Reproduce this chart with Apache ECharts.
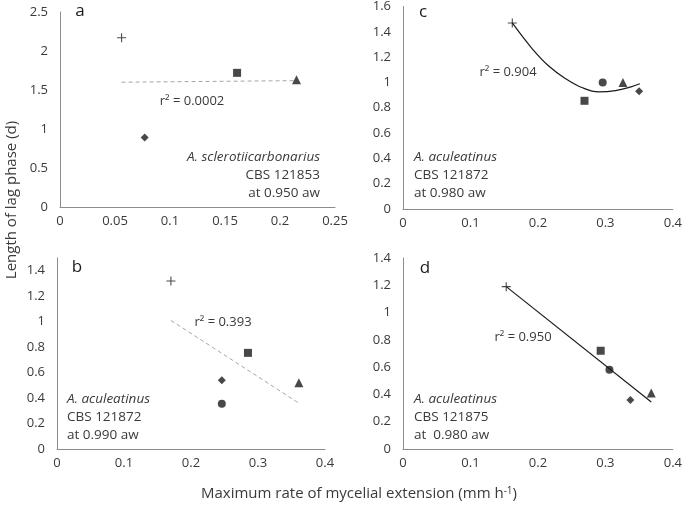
<!DOCTYPE html>
<html>
<head>
<meta charset="utf-8">
<script src="https://cdn.jsdelivr.net/npm/echarts@6/dist/echarts.min.js"></script>
<style>
  html, body { margin: 0; padding: 0; background: #fff; }
  #chart { width: 685px; height: 508px; }
</style>
</head>
<body>
<div id="chart"></div>
<script>
// marker kinds, same order in every panel (null = not measured)
const kinds = ['plus', 'square', 'circle', 'diamond', 'triangle'];

// panel a: A. sclerotiicarbonarius CBS 121853, 0.950 aw
const aX = [0.056, 0.161, null, 0.077, 0.215];
const aY = [2.17, 1.72, null, 0.89, 1.63];
const aTrend = [[0.056, 1.60], [0.215, 1.62]];

// panel b: A. aculeatinus CBS 121872, 0.990 aw
const bX = [0.170, 0.285, 0.246, 0.246, 0.361];
const bY = [1.32, 0.755, 0.355, 0.54, 0.52];
const bTrend = [[0.170, 1.01], [0.361, 0.36]];

// panel c: A. aculeatinus CBS 121872, 0.980 aw
const cX = [0.162, 0.269, 0.296, 0.350, 0.326];
const cY = [1.47, 0.855, 1.0, 0.93, 1.0];
// polynomial trend
const cTrend = [[0.162, 1.47], [0.191, 1.27], [0.216, 1.13], [0.241, 1.03], [0.265, 0.96],
  [0.290, 0.925], [0.315, 0.935], [0.338, 0.965], [0.351, 0.99]];

// panel d: A. aculeatinus CBS 121875, 0.980 aw
const dX = [0.153, 0.293, 0.306, 0.337, 0.368];
const dY = [1.19, 0.72, 0.58, 0.36, 0.41];
const dTrend = [[0.153, 1.19], [0.368, 0.345]];

const r2Labels = ['r\u00b2 = 0.0002', 'r\u00b2 = 0.393', 'r\u00b2 = 0.904', 'r\u00b2 = 0.950'];

const FONT = '"Open Sans", "DejaVu Sans", sans-serif';
const INK = '#1a1a1a';
const TXT = '#3a3a3a';

const symbolOf = {
  plus: 'path://M4.4,0H5.6V10H4.4ZM0,4.4H10V5.6H0Z',
  square: 'rect',
  circle: 'circle',
  diamond: 'diamond',
  triangle: 'triangle'
};
const sizeOf = { plus: 9, square: 8, circle: 8, diamond: 8, triangle: 9 };

function points(xs, ys) {
  const out = [];
  kinds.forEach((k, i) => {
    if (xs[i] == null) return;
    out.push({ value: [xs[i], ys[i]], symbol: symbolOf[k], symbolSize: sizeOf[k] });
  });
  return out;
}

// pixel boxes of the four plot areas
const grids = [
  { left: 60, top: 12, width: 275, height: 195 },   // a
  { left: 57, top: 258, width: 268, height: 191 },  // b
  { left: 403, top: 5, width: 272, height: 204 },   // c
  { left: 403, top: 258, width: 274, height: 191 }  // d
];

function xAxisFor(i, max, interval) {
  return {
    gridIndex: i, type: 'value', min: 0, max: max, interval: interval,
    axisLine: { show: true, lineStyle: { color: '#8c8c8c', width: 1 } },
    axisTick: { show: false },
    splitLine: { show: false },
    axisLabel: { color: TXT, fontFamily: FONT, fontSize: 13, margin: 8 }
  };
}
function yAxisFor(i, max, interval, showMax) {
  return {
    gridIndex: i, type: 'value', min: 0, max: max, interval: interval,
    axisLine: { show: true, lineStyle: { color: '#8c8c8c', width: 1 } },
    axisTick: { show: false },
    splitLine: { show: false },
    axisLabel: { color: TXT, fontFamily: FONT, fontSize: 13, margin: 12, showMaxLabel: showMax }
  };
}

function scatter(i, data) {
  return {
    type: 'scatter', xAxisIndex: i, yAxisIndex: i,
    itemStyle: { color: INK }, data: data, z: 3
  };
}
function trend(i, data, dashed, smooth) {
  return {
    type: 'line', xAxisIndex: i, yAxisIndex: i, data: data,
    showSymbol: false, smooth: smooth ? 0.4 : false, silent: true,
    lineStyle: dashed ? { color: '#a6a6a6', width: 1, type: [4, 3] } : { color: INK, width: 1.2 },
    z: 2
  };
}

function txt(x, y, text, opts) {
  return {
    type: 'text', x: x, y: y,
    style: Object.assign({
      text: text, fill: TXT, font: '13px ' + FONT,
      textAlign: 'center', textVerticalAlign: 'middle'
    }, opts || {})
  };
}
function block(x, y, lines, align) {
  return lines.map((t, j) => txt(x, y + j * 18, t, {
    textAlign: align,
    font: (j === 0 ? 'italic ' : '') + '13.5px ' + FONT
  }));
}

const chart = echarts.init(document.getElementById('chart'), null, { renderer: 'canvas' });
chart.setOption({
  animation: false,
  backgroundColor: '#fff',
  grid: grids,
  xAxis: [
    xAxisFor(0, 0.25, 0.05),
    xAxisFor(1, 0.4, 0.1),
    xAxisFor(2, 0.4, 0.1),
    xAxisFor(3, 0.4, 0.1)
  ],
  yAxis: [
    yAxisFor(0, 2.5, 0.5, true),
    yAxisFor(1, 1.5, 0.2, false),
    yAxisFor(2, 1.6, 0.2, true),
    yAxisFor(3, 1.4, 0.2, true)
  ],
  series: [
    trend(0, aTrend, true, false), scatter(0, points(aX, aY)),
    trend(1, bTrend, true, false), scatter(1, points(bX, bY)),
    trend(2, cTrend, false, true), scatter(2, points(cX, cY)),
    trend(3, dTrend, false, false), scatter(3, points(dX, dY))
  ],
  graphic: [].concat(
    [
      txt(80, 11, 'a', { font: '17px ' + FONT, fill: INK }),
      txt(77, 267, 'b', { font: '17px ' + FONT, fill: INK }),
      txt(423, 12, 'c', { font: '17px ' + FONT, fill: INK }),
      txt(425, 268, 'd', { font: '17px ' + FONT, fill: INK }),
      txt(192, 101, r2Labels[0]),
      txt(223, 322, r2Labels[1]),
      txt(508, 72, r2Labels[2]),
      txt(523, 337, r2Labels[3]),
      {
        type: 'text', x: 12, y: 200, rotation: Math.PI / 2,
        style: { text: 'Length of lag phase (d)', fill: TXT, font: '15px ' + FONT,
          textAlign: 'center', textVerticalAlign: 'middle' }
      },
      {
        type: 'text', x: 359, y: 494,
        style: {
          text: '{n|Maximum rate of mycelial extension (mm h}{s|-1}{n|)}',
          textAlign: 'center', textVerticalAlign: 'middle',
          rich: {
            n: { fill: TXT, fontFamily: FONT, fontSize: 15 },
            s: { fill: TXT, fontFamily: FONT, fontSize: 10, verticalAlign: 'top', padding: [0, 0, 6, 0] }
          }
        }
      }
    ],
    block(320, 157, ['A. sclerotiicarbonarius', 'CBS 121853', 'at 0.950 aw'], 'right'),
    block(67, 399, ['A. aculeatinus', 'CBS 121872', 'at 0.990 aw'], 'left'),
    block(414, 157, ['A. aculeatinus', 'CBS 121872', 'at 0.980 aw'], 'left'),
    block(414, 399, ['A. aculeatinus', 'CBS 121875', 'at  0.980 aw'], 'left')
  )
});
</script>
</body>
</html>
